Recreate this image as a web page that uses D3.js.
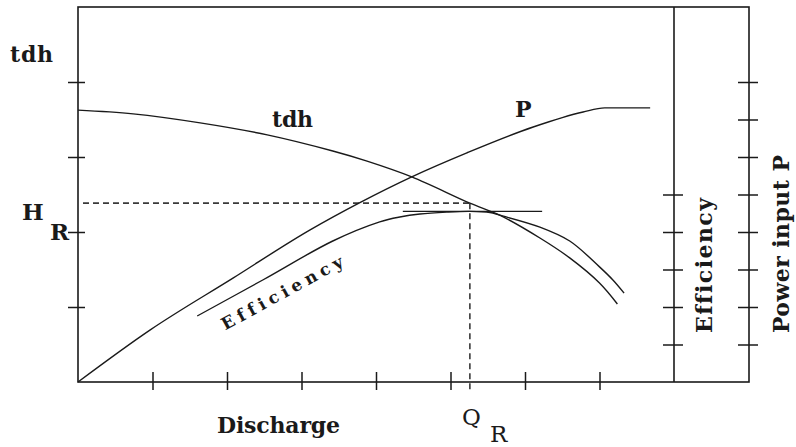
<!DOCTYPE html>
<html>
<head>
<meta charset="utf-8">
<script src="https://cdn.jsdelivr.net/npm/d3@7"></script>
<style>
  html, body { margin: 0; padding: 0; background: #ffffff; }
  svg { display: block; }
  svg text { font-variant-ligatures: none; font-feature-settings: "liga" 0; }
</style>
</head>
<body>
<svg id="chart" width="796" height="447"></svg>
<script>
// ---- data (schematic pump characteristic) ----
const dischargeTicks = [1, 2, 3, 4, 5, 6, 7];
const tdhTicks = [2, 4, 6, 8];
const efficiencyTicks = [1, 2, 3, 4, 5];
const powerTicks = [1, 2, 3, 4, 5, 6, 7, 8];

const tdhQ   = [0, 0.74, 1.64, 2.54, 3.42, 3.88, 4.48, 5.26, 5.66, 6.2, 6.6, 7.0, 7.24];
const tdhVal = [7.25, 7.15, 6.91, 6.59, 6.16, 5.89, 5.47, 4.77, 4.45, 3.84, 3.31, 2.64, 2.08];

const powerQ   = [0, 0.97, 2.08, 3.11, 3.79, 4.48, 5.22, 6.11, 6.78, 7.07, 7.68];
const powerVal = [0, 1.39, 2.77, 4.05, 4.79, 5.47, 6.11, 6.8, 7.2, 7.31, 7.31];

const effQ   = [1.6, 2.48, 3.42, 4.05, 4.32, 4.59, 4.95, 5.26, 5.53, 5.66, 6.2, 6.6, 7.0, 7.18, 7.33];
const effVal = [1.76, 2.72, 3.76, 4.27, 4.4, 4.48, 4.53, 4.55, 4.52, 4.45, 4.13, 3.76, 3.07, 2.72, 2.37];

const bestEffQ = [4.36, 6.23];
const bestEffVal = 4.55;

const ratedQ = 5.26;   // Q_R
const ratedH = 4.77;   // H_R

// ---- layout ----
const svg = d3.select("#chart");
const mLeft = 78, mRight = 674, mOuter = 749, mTop = 7, mBottom = 382;

const x = d3.scaleLinear().domain([0, 8]).range([mLeft, mRight]);
const y = d3.scaleLinear().domain([0, 10]).range([mBottom, mTop]);

const ink = "#1a1a1a";
const serif = "DejaVu Serif";

// frame
const frame = svg.append("g").attr("fill", "none").attr("stroke", ink).attr("stroke-width", 1.6);
frame.append("rect").attr("x", mLeft).attr("y", mTop).attr("width", mOuter - mLeft).attr("height", mBottom - mTop);
frame.append("line").attr("x1", mRight).attr("x2", mRight).attr("y1", mTop).attr("y2", mBottom);

function ticks(axisGen, tx, ty) {
  const g = svg.append("g").attr("transform", `translate(${tx},${ty})`).call(axisGen);
  g.select(".domain").remove();
  g.selectAll("text").remove();
  g.selectAll("line").attr("stroke", ink).attr("stroke-width", 1.5);
}
// left (tdh) ticks, crossing the axis
ticks(d3.axisLeft(y).tickValues(tdhTicks).tickSize(10), mLeft, 0);
ticks(d3.axisRight(y).tickValues(tdhTicks).tickSize(7), mLeft, 0);
// bottom (discharge) ticks
ticks(d3.axisBottom(x).tickValues(dischargeTicks).tickSize(8), 0, mBottom);
ticks(d3.axisTop(x).tickValues(dischargeTicks).tickSize(10), 0, mBottom);
// efficiency axis ticks
ticks(d3.axisLeft(y).tickValues(efficiencyTicks).tickSize(11), mRight, 0);
ticks(d3.axisRight(y).tickValues(efficiencyTicks).tickSize(9), mRight, 0);
// power axis ticks
ticks(d3.axisLeft(y).tickValues(powerTicks).tickSize(11), mOuter, 0);
ticks(d3.axisRight(y).tickValues(powerTicks).tickSize(9), mOuter, 0);

// dashed rated-point lines
const dash = svg.append("g").attr("stroke", "#3a3a3a").attr("stroke-width", 1.6).attr("stroke-dasharray", "6,4");
dash.append("line").attr("x1", mLeft + 5).attr("x2", x(ratedQ)).attr("y1", y(ratedH)).attr("y2", y(ratedH));
dash.append("line").attr("x1", x(ratedQ)).attr("x2", x(ratedQ)).attr("y1", y(ratedH)).attr("y2", mBottom + 8);

// curves
const smooth = d3.line().x(d => x(d[0])).y(d => y(d[1])).curve(d3.curveCatmullRom.alpha(0.5));
const mono = d3.line().x(d => x(d[0])).y(d => y(d[1])).curve(d3.curveMonotoneX);
const curves = svg.append("g").attr("fill", "none").attr("stroke", ink).attr("stroke-width", 1.4);
curves.append("path").attr("d", smooth(d3.zip(tdhQ, tdhVal)));
curves.append("path").attr("d", mono(d3.zip(powerQ, powerVal)));
curves.append("path").attr("d", smooth(d3.zip(effQ, effVal)));
curves.append("line")
  .attr("x1", x(bestEffQ[0])).attr("x2", x(bestEffQ[1]))
  .attr("y1", y(bestEffVal)).attr("y2", y(bestEffVal));

// labels
function label(txt, px, py, opts = {}) {
  const t = svg.append("text").attr("x", px).attr("y", py)
    .style("font-family", serif)
    .attr("fill", ink)
    .attr("font-size", opts.size || 22)
    .attr("font-weight", opts.weight || "bold")
    .text(txt);
  if (opts.len) t.attr("textLength", opts.len).attr("lengthAdjust", "spacing");
  if (opts.anchor) t.attr("text-anchor", opts.anchor);
  if (opts.rotate !== undefined) t.attr("transform", `rotate(${opts.rotate},${px},${py})`);
  return t;
}
label("tdh", 10, 62, { len: 43 });
label("tdh", 272, 127, { len: 41 });
label("P", 515, 117);
label("H", 22, 220, { size: 23 });
label("R", 50, 240, { size: 23 });
label("Discharge", 217, 433, { len: 123 });
label("Q", 462, 425, { weight: "normal", size: 23 });
label("R", 490, 442, { weight: "normal", size: 23 });
label("Efficiency", 712, 333, { rotate: -90, len: 135 });
label("Power input P", 789, 333, { rotate: -90, len: 178 });
label("Efficiency", 285, 298, { size: 17, anchor: "middle", rotate: -28.6, len: 136 });
</script>
</body>
</html>
